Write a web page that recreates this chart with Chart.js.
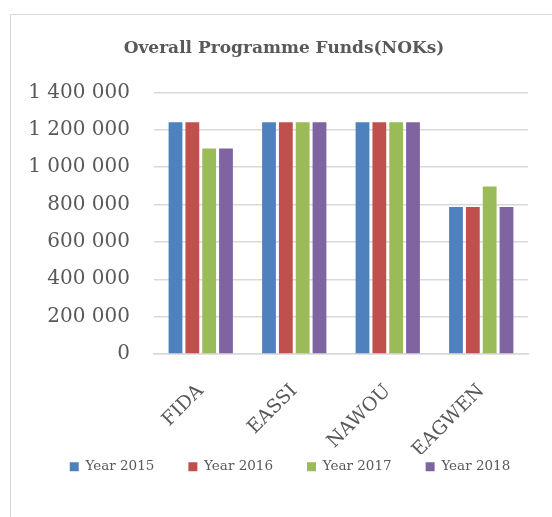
<!DOCTYPE html>
<html>
<head>
<meta charset="utf-8">
<script src="https://cdn.jsdelivr.net/npm/chart.js@4/dist/chart.umd.min.js"></script>
<style>
  body { margin: 0; background: #fff; }
  #frame { position: absolute; left: 10px; top: 14px; width: 560px; height: 520px;
           border: 1.5px solid #d9d9d9; border-bottom: none; border-right: none; }
  #chart { position: absolute; left: 0; top: 0; }
</style>
</head>
<body>
<div id="frame"></div>
<canvas id="chart" width="552" height="517"></canvas>
<script>
var orgs = ['FIDA', 'EASSI', 'NAWOU', 'EAGWEN'];
var year2015 = [1240000, 1240000, 1240000, 787000];
var year2016 = [1240000, 1240000, 1240000, 787000];
var year2017 = [1100000, 1240000, 1240000, 897000];
var year2018 = [1100000, 1240000, 1240000, 787000];
var yTicks = [0, 200000, 400000, 600000, 800000, 1000000, 1200000, 1400000];

var serif = '"DejaVu Serif", serif';
var grey = '#595959';

function spaced(v) {
  return String(v).replace(/\B(?=(\d{3})+(?!\d))/g, ' ');
}

// legend items sit wider apart than their height allows, so the box gets moved by hand
var legendNudge = {
  id: 'legendNudge',
  afterLayout: function(chart) {
    var lg = chart.legend;
    lg.top -= 28;
    lg.bottom = lg.top + 90;
    lg.height = 90;
    lg.left += 18; lg.right += 18;
    var t = chart.titleBlock;
    t.left += 12; t.right += 12;
  }
};

var chart = new Chart('chart', {
  type: 'bar',
  data: {
    labels: orgs,
    datasets: [
      { label: 'Year 2015', data: year2015, backgroundColor: '#4F81BD' },
      { label: 'Year 2016', data: year2016, backgroundColor: '#C0504D' },
      { label: 'Year 2017', data: year2017, backgroundColor: '#9BBB59' },
      { label: 'Year 2018', data: year2018, backgroundColor: '#8064A2' }
    ]
  },
  plugins: [legendNudge],
  options: {
    responsive: false,
    animation: false,
    categoryPercentage: 0.72,
    barPercentage: 0.82,
    layout: { padding: { left: 16, right: 24, top: 38, bottom: 29 } },
    plugins: {
      title: {
        display: true,
        text: 'Overall Programme Funds(NOKs)',
        color: grey,
        font: { family: serif, size: 17, weight: 'bold' },
        padding: { top: 0, bottom: 34 }
      },
      legend: {
        position: 'bottom',
        maxHeight: 34,
        labels: {
          color: grey,
          font: { family: serif, size: 13.5 },
          boxWidth: 9,
          boxHeight: 9,
          padding: 34
        }
      },
      tooltip: { enabled: false }
    },
    scales: {
      x: {
        grid: { display: false },
        border: { color: '#d9d9d9', width: 1.5 },
        ticks: {
          color: grey,
          font: { family: serif, size: 19 },
          minRotation: 45,
          maxRotation: 45,
          padding: 18
        },
        afterFit: function(s) { s.height = 100; }
      },
      y: {
        min: 0,
        max: 1400000,
        afterBuildTicks: function(s) { s.ticks = yTicks.map(function(v) { return { value: v }; }); },
        grid: { color: '#d9d9d9', lineWidth: 1.5, drawTicks: false },
        border: { display: false },
        ticks: {
          color: grey,
          font: { family: serif, size: 20 },
          padding: 24,
          callback: function(v) { return spaced(v); }
        },
        afterFit: function(s) { s.width = 138; }
      }
    }
  }
});
</script>
</body>
</html>
